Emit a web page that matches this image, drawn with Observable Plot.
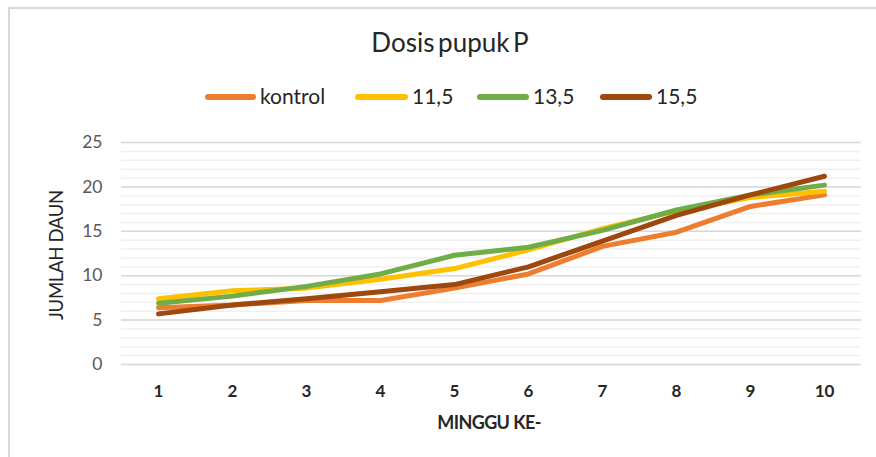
<!DOCTYPE html>
<html>
<head>
<meta charset="utf-8">
<script src="https://cdn.jsdelivr.net/npm/d3@7"></script>
<script src="https://cdn.jsdelivr.net/npm/@observablehq/plot@0.6"></script>
<style>
  body { margin: 0; background: #fff; font-family: Lato, "Open Sans", sans-serif; }
  #wrap { position: relative; width: 876px; height: 457px; overflow: hidden; }
  #frame { position: absolute; left: 8px; top: 7px; width: 900px; height: 500px; border-left: 2px solid #d9d9d9; border-top: 2px solid #d9d9d9; }
  #title { position: absolute; left: 0; width: 900px; top: 27px; text-align: center; font-size: 26px; color: #262626; word-spacing: -3px; line-height: 30px; }
  .leg { position: absolute; top: 84px; font-size: 21px; color: #262626; white-space: nowrap; line-height: 24px; }
  .sw { position: absolute; height: 6px; border-radius: 3px; top: 94px; }
  #ylab { position: absolute; left: 56px; top: 255px; transform: translate(-50%, -50%) rotate(-90deg); font-size: 18.5px; color: #262626; white-space: nowrap; letter-spacing: -0.3px; }
  #xlab { position: absolute; left: 489px; top: 422px; transform: translate(-50%, -50%); font-size: 18px; font-weight: bold; color: #262626; white-space: nowrap; letter-spacing: -0.6px; }
  svg { position: absolute; left: 0; top: 0; }
</style>
</head>
<body>
<div id="wrap">
  <div id="frame"></div>
  <div id="title">Dosis pupuk P</div>
  <div id="legend"></div>
  <div id="ylab">JUMLAH DAUN</div>
  <div id="xlab">MINGGU KE-</div>
</div>
<script>
const weeks = [1, 2, 3, 4, 5, 6, 7, 8, 9, 10];
const seriesNames = ["kontrol", "11,5", "13,5", "15,5"];
const seriesColors = ["#ED7D31", "#FFC000", "#70AD47", "#9E480E"];
const kontrol = [6.4, 6.7, 7.2, 7.2, 8.6, 10.2, 13.3, 14.9, 17.8, 19.1];
const dosis115 = [7.4, 8.3, 8.6, 9.6, 10.8, 12.9, 15.3, 17.3, 18.8, 19.5];
const dosis135 = [6.9, 7.7, 8.8, 10.2, 12.3, 13.2, 15.1, 17.4, 19.1, 20.2];
const dosis155 = [5.7, 6.7, 7.4, 8.2, 9.0, 11.0, 13.9, 16.8, 19.1, 21.2];
const yTicks = [0, 5, 10, 15, 20, 25];
const yMinor = d3.range(0, 26);

const seriesValues = [kontrol, dosis115, dosis135, dosis155];
const data = [];
seriesNames.forEach((name, i) => {
  weeks.forEach((w, j) => data.push({ week: w, value: seriesValues[i][j], series: name }));
});

const plot = Plot.plot({
  width: 876,
  height: 457,
  marginTop: 142,
  marginBottom: 93,
  marginLeft: 121,
  marginRight: 15,
  style: { fontFamily: "Lato, 'Open Sans', sans-serif", background: "transparent", overflow: "visible" },
  x: { domain: [0.5, 10.5] },
  y: { domain: [0, 25] },
  color: { domain: seriesNames, range: seriesColors },
  marks: [
    Plot.gridY(yMinor, { stroke: "#f0f0f0", strokeOpacity: 1, strokeWidth: 1.5 }),
    Plot.gridY(yTicks, { stroke: "#d9d9d9", strokeOpacity: 1, strokeWidth: 1.5 }),
    Plot.axisY(yTicks, { tickSize: 0, tickPadding: 19, fontSize: 17.5, fill: "#595959", label: null }),
    Plot.axisX(weeks, { tickSize: 0, tickPadding: 20, fontSize: 17, fontWeight: "bold", fill: "#262626", label: null }),
    Plot.line(data, { x: "week", y: "value", z: "series", stroke: "series", strokeWidth: 5, strokeLinecap: "round", strokeLinejoin: "round" })
  ]
});
document.getElementById("wrap").appendChild(plot);

const legendPos = [[205, 260], [355, 412], [477, 533], [600, 656]];
const legend = document.getElementById("legend");
seriesNames.forEach((name, i) => {
  const sw = document.createElement("div");
  sw.className = "sw";
  sw.style.left = legendPos[i][0] + "px";
  sw.style.width = (legendPos[i][1] - legendPos[i][0] - 4) + "px";
  sw.style.background = seriesColors[i];
  legend.appendChild(sw);
  const t = document.createElement("div");
  t.className = "leg";
  t.style.left = legendPos[i][1] + "px";
  t.textContent = name;
  legend.appendChild(t);
});
</script>
</body>
</html>
